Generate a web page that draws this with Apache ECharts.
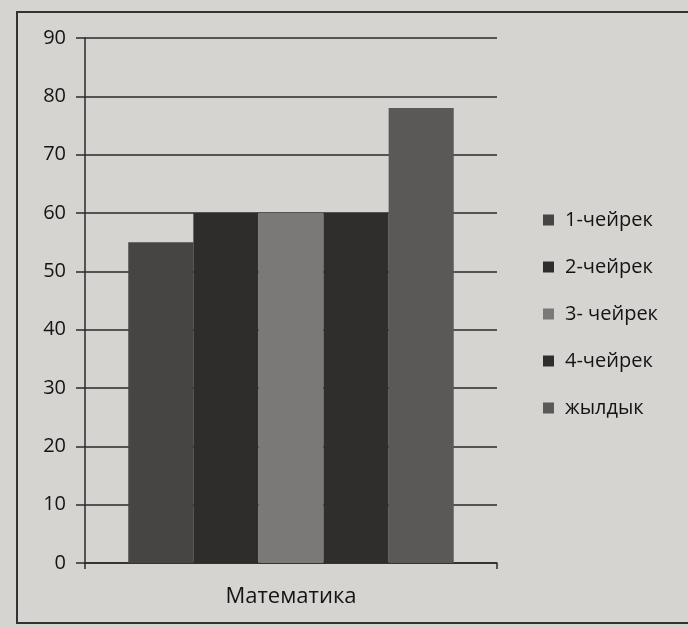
<!DOCTYPE html>
<html>
<head>
<meta charset="utf-8">
<script src="https://cdn.jsdelivr.net/npm/echarts@6/dist/echarts.min.js"></script>
<style>
    html, body {margin: 0; padding: 0; background: #d5d4d1; overflow: hidden;}
    #main {width: 688px; height: 627px;}
    #frame {position: absolute; left: 16px; top: 11px; width: 700px; height: 609px; border: 2px solid #333; pointer-events: none;}
</style>
</head>
<body>
<div id="main"></div>
<div id="frame"></div>
<script>
// категории и значения
var categories = ['Математика'];
var seriesNames = ['1-чейрек', '2-чейрек', '3- чейрек', '4-чейрек', 'жылдык'];
var q1 = [55];
var q2 = [60];
var q3 = [60];
var q4 = [60];
var year = [78];
var colors = ['#474544', '#2f2d2c', '#7b7977', '#302e2d', '#5b5957'];

var allData = [q1, q2, q3, q4, year];
var series = [];
for (var i = 0; i < seriesNames.length; i++) {
    series.push({
        name: seriesNames[i],
        type: 'bar',
        data: allData[i],
        barGap: '0%',
        barCategoryGap: '21%',
        itemStyle: {color: colors[i]}
    });
}

var chart = echarts.init(document.getElementById('main'));
var option = {
    backgroundColor: '#d5d4d1',
    animation: false,
    color: colors,
    grid: {left: 85, right: 191, top: 38, bottom: 64},
    legend: {
        orient: 'vertical',
        left: 538,
        top: 205,
        itemWidth: 11,
        itemHeight: 11,
        itemGap: 27,
        icon: 'rect',
        textStyle: {fontFamily: 'Open Sans', fontSize: 20, color: '#141414', padding: [0, 0, 0, 6]},
        data: seriesNames
    },
    xAxis: {
        type: 'category',
        data: categories,
        axisLine: {lineStyle: {color: '#2a2a2a', width: 1.5}},
        axisTick: {show: true, length: 6, lineStyle: {color: '#2a2a2a', width: 1.5}},
        axisLabel: {fontFamily: 'Open Sans', fontSize: 22, color: '#141414', margin: 23}
    },
    yAxis: {
        type: 'value',
        min: 0,
        max: 90,
        interval: 10,
        axisLine: {show: true, lineStyle: {color: '#2a2a2a', width: 1.5}},
        axisTick: {show: true, length: 9, lineStyle: {color: '#2a2a2a', width: 1.5}},
        axisLabel: {fontFamily: 'Open Sans', fontSize: 20, color: '#141414', margin: 19},
        splitLine: {lineStyle: {color: '#2a2a2a', width: 1.5}}
    },
    series: series
};
chart.setOption(option);
</script>
</body>
</html>
